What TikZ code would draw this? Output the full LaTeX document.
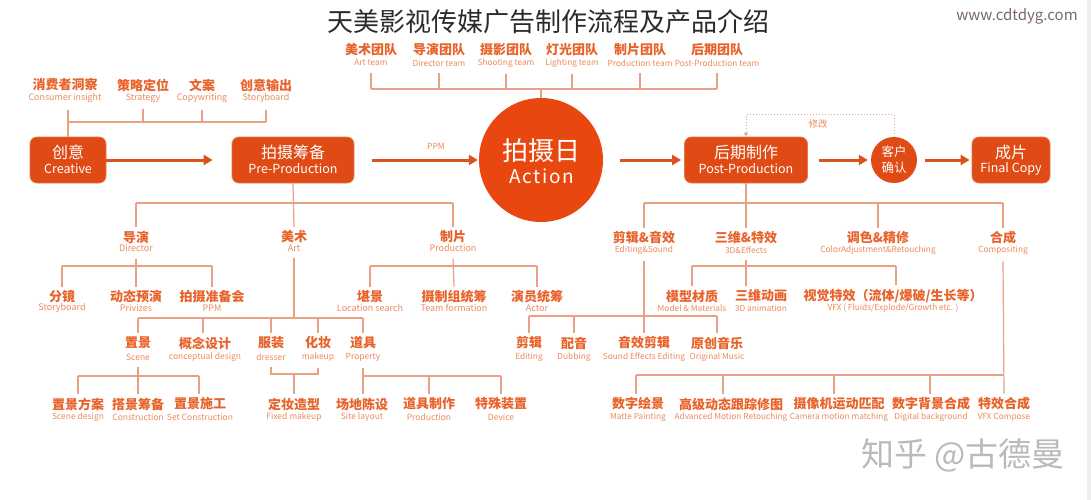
\documentclass[tikz,border=0pt]{standalone}
\usepackage{fontspec}
\setmainfont{Noto Sans CJK SC}
\usetikzlibrary{arrows.meta}
\definecolor{cBox}{HTML}{E04A14}
\definecolor{cCirc}{HTML}{E8480F}
\definecolor{cArr}{HTML}{D9531C}
\definecolor{cLine}{HTML}{E9A183}
\definecolor{cCn}{HTML}{E8622A}
\definecolor{cEn}{HTML}{EC8B5E}
\definecolor{cTitle}{HTML}{2A2A2A}
\definecolor{cUrl}{HTML}{7A6A66}
\newcommand\mklab[6]{%
  \node[cn] (#1) at (#2,#3) {#5};
  \node[en] (#1-e) at (#2,#4) {#6};}
\begin{document}
\begin{tikzpicture}[x=1pt,y=-1pt,
  cn/.style={text=cCn,inner sep=0pt,outer sep=4pt,font=\fontsize{13}{15}\selectfont\bfseries},
  en/.style={text=cEn,inner sep=0pt,outer sep=7pt,font=\fontsize{8.3}{9}\selectfont},
  ln/.style={draw=cLine,line width=1.2pt},
  box/.style={fill=cBox,draw=cBox!75,line width=0.8pt,rounded corners=7pt,minimum width=#1,minimum height=46pt,inner sep=0pt},
  bcn/.style={text=white,inner sep=0pt,font=\fontsize{16}{18}\selectfont},
  ben/.style={text=white,inner sep=0pt,font=\fontsize{12.5}{14}\selectfont},
  arr/.style={draw=cArr,line width=3pt,-{Triangle[length=9pt,width=10pt]}},
]
\useasboundingbox (0,0) rectangle (1091,500);
\fill[white] (0,0) rectangle (1091,500);
\fill[black!7] (1087,0) rectangle (1091,500);

% title and url
\node[text=cTitle,inner sep=0pt,font=\fontsize{26}{28}\selectfont] (title) at (548,22) {天美影视传媒广告制作流程及产品介绍};
\node[text=cUrl,inner sep=0pt,font=\fontsize{15}{17}\selectfont] (url) at (1017,16) {www.cdtdyg.com};

% main row
\node[box=76pt] (cre) at (68,160) {};
\node[bcn] (cre-c) at (68,152) {创意};
\node[ben] (cre-t) at (68,169) {Creative};
\node[box=122pt] (prep) at (293,160) {};
\node[bcn] (prep-c) at (293,152) {拍摄筹备};
\node[ben] (prep-t) at (293,169) {Pre-Production};
\node[circle,fill=cCirc,minimum size=124pt,inner sep=0pt] (act) at (541,160) {};
\node[text=white,inner sep=0pt,font=\fontsize{26}{28}\selectfont] (act-c) at (541,151) {拍摄日};
\node[text=white,inner sep=0pt,font=\fontsize{19}{21}\selectfont\addfontfeatures{LetterSpace=9}] (act-t) at (542,176) {Action};
\node[box=123pt] (post) at (746,160) {};
\node[bcn] (post-c) at (746,152) {后期制作};
\node[ben] (post-t) at (746,169) {Post-Production};
\node[circle,fill=cBox,minimum size=46pt,inner sep=0pt] (cli) at (894,160) {};
\node[text=white,inner sep=0pt,font=\fontsize{12.5}{14}\selectfont] (cli-a) at (894,152) {客户};
\node[text=white,inner sep=0pt,font=\fontsize{12.5}{14}\selectfont] (cli-b) at (894,168) {确认};
\node[box=78pt] (fin) at (1011,160) {};
\node[bcn] (fin-c) at (1011,152) {成片};
\node[ben] (fin-t) at (1011,169) {Final Copy};

\draw[arr,shorten >=19pt] (cre.east) -- (prep.west);
\draw[arr,shorten <=18pt,shorten >=1pt] (prep.east) -- (act.west);
\node[en,outer sep=0pt,font=\fontsize{8.5}{9}\selectfont] (ppm) at (436,146) {PPM};
\draw[arr,shorten <=17pt,shorten >=3pt] (act.east) -- (post.west);
\draw[arr,shorten <=11pt,shorten >=3pt] (post.east) -- (cli.west);
\draw[arr,shorten <=8pt,shorten >=2pt] (cli.east) -- (fin.west);
\draw[draw=cLine,line width=1pt,dotted,-{Triangle[length=4pt,width=4pt]}] (cli.north) -- ++(0,-22) -| (post.north);
\node[en,outer sep=0pt,font=\fontsize{9.5}{10}\selectfont] (mod) at (818,124) {修改};

% teams
\coordinate (yT) at (0,89);
\mklab{t1}{371}{50}{63}{美术团队}{Art team}
\mklab{t2}{439}{50}{63}{导演团队}{Director team}
\mklab{t3}{506}{50}{63}{摄影团队}{Shooting team}
\mklab{t4}{572}{50}{63}{灯光团队}{Lighting team}
\mklab{t5}{640}{50}{63}{制片团队}{Production team}
\mklab{t6}{717}{50}{63}{后期团队}{Post-Production team}
\foreach \n in {t1,t2,t3,t4,t5,t6}{\draw[ln] (\n-e.south) -- (\n-e.south |- yT);}
\draw[ln] (t1-e.south |- yT) -- (t6-e.south |- yT);
\draw[ln] (act.north |- yT) -- (act.north);

% creative inputs
\begin{scope}[en/.append style={font=\fontsize{8.9}{10}\selectfont}]
\mklab{l1}{65}{85}{98}{消费者洞察}{Consumer insight}
\mklab{l2}{143}{85}{98}{策略定位}{Strategy}
\mklab{l3}{202}{85}{98}{文案}{Copywriting}
\mklab{l4}{266}{85}{98}{创意输出}{Storyboard}
\end{scope}
\coordinate (yL) at (0,122);
\draw[ln] (cre.north |- l1-e.south) -- (cre.north);
\foreach \n in {l2,l3,l4}{\draw[ln] (\n-e.south) -- (\n-e.south |- yL);}
\draw[ln] (cre.north |- yL) -- (l4-e.south |- yL);

% pre-production tree
\coordinate (yP) at (0,203);
\coordinate (yD) at (0,266);
\coordinate (yA) at (0,318);
\coordinate (yS) at (0,376);
\coordinate (yM) at (0,374);
\coordinate (yE) at (0,316);
\coordinate (yC) at (0,375);

\begin{scope}[en/.append style={font=\fontsize{9}{10}\selectfont}]
\mklab{dir}{136}{237}{248}{导演}{Director}
\mklab{art}{294}{237}{248}{美术}{Art}
\mklab{pro}{453}{237}{248}{制片}{Production}
\mklab{d1}{62}{297}{308}{分镜}{Storyboard}
\mklab{d2}{136}{297}{308}{动态预演}{Privizes}
\mklab{d3}{212}{297}{308}{拍摄准备会}{PPM}
\mklab{r1}{370}{297}{308}{堪景}{Location search}
\mklab{r2}{454}{297}{308}{摄制组统筹}{Team formation}
\mklab{r3}{537}{297}{308}{演员统筹}{Actor}
\end{scope}
\begin{scope}[en/.append style={font=\fontsize{8.5}{9.5}\selectfont}]
\mklab{a1}{138}{343}{357}{置景}{Scene}
\mklab{a2}{205}{343}{357}{概念设计}{conceptual design}
\mklab{a3}{271}{343}{357}{服装}{dresser}
\mklab{a4}{318}{343}{357}{化妆}{makeup}
\mklab{a5}{363}{343}{357}{道具}{Property}
\mklab{s1}{78}{404}{417}{置景方案}{Scene design}
\mklab{s2}{138}{404}{417}{搭景筹备}{Construction}
\mklab{s3}{200}{404}{417}{置景施工}{Set Construction}
\mklab{fm}{294}{404}{417}{定妆造型}{Fixed makeup}
\mklab{p1}{362}{404}{417}{场地陈设}{Site layout}
\mklab{p2}{429}{404}{417}{道具制作}{Production}
\mklab{p3}{501}{404}{417}{特殊装置}{Device}
\end{scope}

\draw[ln] (prep.south) -- (art.north);
\draw[ln] (dir.north |- yP) -- (pro.north |- yP);
\draw[ln] (dir.north |- yP) -- (dir.north);
\draw[ln] (pro.north |- yP) -- (pro.north);

\draw[ln] (dir-e.south) -- (d2.north);
\draw[ln] (d1.north |- yD) -- (d3.north |- yD);
\draw[ln] (d1.north |- yD) -- (d1.north);
\draw[ln] (d3.north |- yD) -- (d3.north);

\draw[ln] (art-e.south) -- (art-e.south |- yA);
\draw[ln] (a1.north |- yA) -- (a5.north |- yA);
\draw[ln] (a1.north |- yA) -- (a1.north);
\draw[ln] ([xshift=-2pt]a2.north |- yA) -- ([xshift=-2pt]a2.north);
\draw[ln] (a3.north |- yA) -- (a3.north);
\draw[ln] (a4.north |- yA) -- (a4.north);
\draw[ln] (a5.north |- yA) -- (a5.north);

\draw[ln] (a1-e.south) -- (s2.north);
\draw[ln] (s1.north |- yS) -- ([xshift=-1pt]s3.north |- yS);
\draw[ln] (s1.north |- yS) -- (s1.north);
\draw[ln] ([xshift=-1pt]s3.north |- yS) -- ([xshift=-1pt]s3.north);

\draw[ln] (a3-e.south) -- (a3-e.south |- yM) -- (a4-e.south |- yM) -- (a4-e.south);
\draw[ln] (fm.north |- yM) -- (fm.north);

\draw[ln] (a5-e.south) -- (a5-e.south |- p1.north);
\draw[ln] (a5-e.south |- yS) -- (p3.north |- yS);
\draw[ln] (p2.north |- yS) -- (p2.north);
\draw[ln] (p3.north |- yS) -- (p3.north);

\draw[ln] (pro-e.south) -- (r2.north);
\draw[ln] (r1.north |- yD) -- (r3.north |- yD);
\draw[ln] (r1.north |- yD) -- (r1.north);
\draw[ln] (r3.north |- yD) -- (r3.north);

% post-production tree
\mklab{ed}{644}{238}{250}{剪辑\&音效}{Editing\&Sound}
\mklab{fx}{746}{238}{250}{三维\&特效}{3D\&Effects}
\mklab{co}{878}{238}{250}{调色\&精修}{ColorAdjustment\&Retouching}
\mklab{cp}{1003}{238}{250}{合成}{Compositing}
\draw[ln] (post.south) -- (fx.north);
\draw[ln] (ed.north |- yP) -- (cp.north |- yP);
\draw[ln] (ed.north |- yP) -- (ed.north);
\draw[ln] (co.north |- yP) -- (co.north);
\draw[ln] (cp.north |- yP) -- (cp.north);

\mklab{f1}{692}{296}{308}{模型材质}{Model \& Materials}
\mklab{f2}{761}{296}{308}{三维动画}{3D animation}
\mklab{f3}{893}{296}{308}{视觉特效（流体/爆破/生长等）}{VFX ( Fluids/Explode/Growth etc. )}
\draw[ln] (fx-e.south) -- (fx-e.south |- f2.north);
\draw[ln] (f1.north |- yD) -- ([xshift=3pt]f3.north |- yD);
\draw[ln] (f1.north |- yD) -- (f1.north);
\draw[ln] ([xshift=3pt]f3.north |- yD) -- ([xshift=3pt]f3.north);

\mklab{e1}{529}{343}{357}{剪辑}{Editing}
\mklab{e2}{574}{343}{357}{配音}{Dubbing}
\mklab{e3}{644}{343}{357}{音效剪辑}{Sound Effects Editing}
\mklab{e4}{717}{343}{357}{原创音乐}{Original Music}
\draw[ln] (ed-e.south) -- (e3.north);
\draw[ln] (e1.north |- yE) -- (e4.north |- yE);
\draw[ln] (e1.north |- yE) -- (e1.north);
\draw[ln] (e2.north |- yE) -- (e2.north);
\draw[ln] (e4.north |- yE) -- (e4.north);

\mklab{c1}{638}{404}{417}{数字绘景}{Matte Painting}
\mklab{c2}{731}{404}{417}{高级动态跟踪修图}{Advanced Motion Retouching}
\mklab{c3}{839}{404}{417}{摄像机运动匹配}{Camera motion matching}
\mklab{c4}{931}{404}{417}{数字背景合成}{Digital background}
\mklab{c5}{1004}{404}{417}{特效合成}{VFX Compose}
\draw[ln] (cp-e.south) -- (c5.north);
\draw[ln] ([xshift=-2pt]c1.north |- yC) -- (c5.north |- yC);
\draw[ln] ([xshift=-2pt]c1.north |- yC) -- ([xshift=-2pt]c1.north);
\draw[ln] ([xshift=-8pt]c2.north |- yC) -- ([xshift=-8pt]c2.north);
\draw[ln] ([xshift=-5pt]c3.north |- yC) -- ([xshift=-5pt]c3.north);
\draw[ln] ([xshift=-1pt]c4.north |- yC) -- ([xshift=-1pt]c4.north);

% watermark
\node[text=white,inner sep=0pt,font=\fontsize{33}{35}\selectfont] (wm-s) at (962.6,454.4) {知乎 @古德曼};
\node[text=black!27,inner sep=0pt,font=\fontsize{33}{35}\selectfont] (wm) at (963,455) {知乎 @古德曼};
\end{tikzpicture}
\end{document}
